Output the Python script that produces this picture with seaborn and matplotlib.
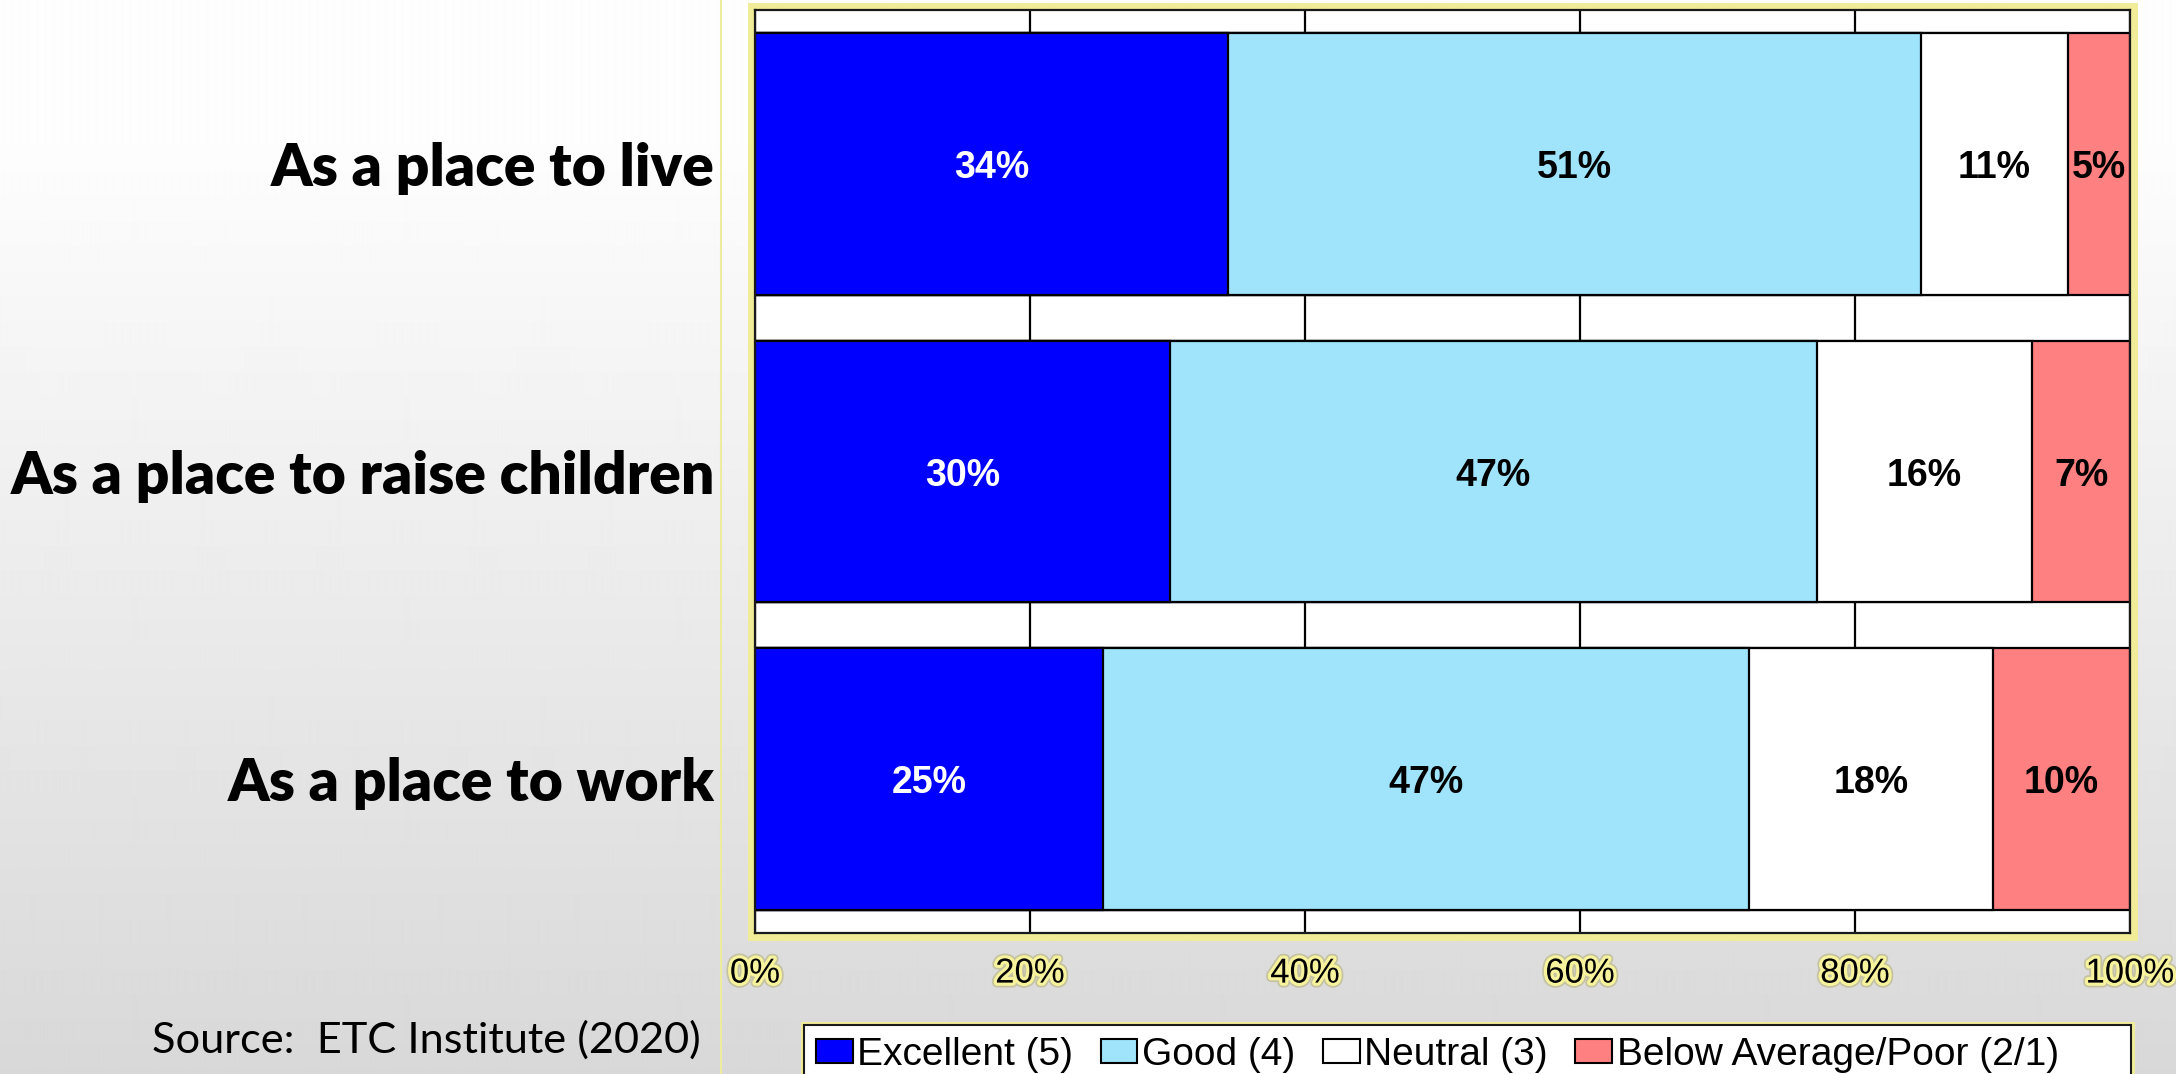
import numpy as np
import pandas as pd
import matplotlib
matplotlib.use("Agg")
import matplotlib.pyplot as plt
import matplotlib.patches as mpatches
import matplotlib.patheffects as pe
from matplotlib.lines import Line2D
import seaborn as sns

# ---------------- data ----------------
categories = ["As a place to live", "As a place to raise children", "As a place to work"]
excellent = [34.4, 30.2, 25.3]
good = [50.4, 47.0, 47.0]
neutral = [10.7, 15.7, 17.7]
below = [4.5, 7.1, 10.0]
excellent_lbl = [34, 30, 25]
good_lbl = [51, 47, 47]
neutral_lbl = [11, 16, 18]
below_lbl = [5, 7, 10]
series_names = ["Excellent (5)", "Good (4)", "Neutral (3)", "Below Average/Poor (2/1)"]
series_colors = ["#0000FF", "#A0E4FC", "#FFFFFF", "#FF8080"]
x_ticks = [0, 20, 40, 60, 80, 100]
x_tick_labels = ["0%", "20%", "40%", "60%", "80%", "100%"]
source_text = "Source:  ETC Institute (2020)"

# ---------------- figure ----------------
W, H = 2176, 1074
sns.set_style("white")
plt.rcParams['font.family'] = ['Liberation Sans', 'DejaVu Sans']

fig = plt.figure(figsize=(W / 100, H / 100), dpi=100)

# slide background gradient
bg = fig.add_axes([0, 0, 1, 1], zorder=-10)
yy = np.linspace(0, 1, H)
t = np.clip((yy - 0.12) / 0.88, 0, 1)
gray = 0.995 - t * (0.995 - 0xd8 / 255)
bg.imshow(np.repeat(gray[:, None], 8, axis=1), cmap="gray", vmin=0, vmax=1,
          aspect="auto", extent=[0, 1, 0, 1], interpolation="bilinear")
bg.set_axis_off()

# thin yellow separator
fig.add_artist(Line2D([721 / W, 721 / W], [0, 1], transform=fig.transFigure,
                      color="#ecec9c", lw=1.5, zorder=-1))

# main axes
ax_l, ax_r, ax_t, ax_b = 755, 2130, 10, 933
ax = fig.add_axes([ax_l / W, 1 - ax_b / H, (ax_r - ax_l) / W, (ax_b - ax_t) / H])
ax.set_facecolor("white")

# yellow outer frame around plot area
fig.add_artist(mpatches.Rectangle(((ax_l - 4) / W, 1 - (ax_b + 4) / H),
                                  (ax_r - ax_l + 8) / W, (ax_b - ax_t + 8) / H,
                                  transform=fig.transFigure, fc="none",
                                  ec="#f0ec98", lw=5, zorder=-1))

vals = np.array([excellent, good, neutral, below])
cum = np.cumsum(vals, axis=0)
df = pd.DataFrame({"category": categories})
for i, name in enumerate(series_names):
    df[f"cum{i}"] = cum[i]

for i in reversed(range(len(series_names))):
    sns.barplot(data=df, x=f"cum{i}", y="category", orient="h",
                color=series_colors[i], saturation=1, width=0.85,
                edgecolor="black", linewidth=1.6, ax=ax, zorder=2)

ax.set_xlim(0, 100)
ax.set_ylim(2.5, -0.5)
ax.set_xlabel("")
ax.set_ylabel("")
ax.set_axisbelow(True)
ax.xaxis.grid(True, color="black", lw=1.6)
ax.yaxis.grid(False)
for s in ax.spines.values():
    s.set_visible(True)
    s.set_color("#1a1a1a")
    s.set_linewidth(1.6)

ax.set_xticks(x_ticks, labels=x_tick_labels)
ax.tick_params(axis="x", length=0, pad=17, labelsize=25, labelcolor="black")
for lbl in ax.get_xticklabels():
    lbl.set_path_effects([pe.Stroke(linewidth=7, foreground="#c4c2a0"),
                          pe.Stroke(linewidth=4.5, foreground="#f7f39c"),
                          pe.Normal()])

ax.set_yticks(range(len(categories)), labels=categories)
ax.tick_params(axis="y", length=0, pad=29, labelcolor="black")
for lbl in ax.get_yticklabels():
    lbl.set_fontfamily(["Lato", "DejaVu Sans"])
    lbl.set_fontweight("heavy")
    lbl.set_fontsize(44)
    lbl.set_color("black")

# segment labels
label_sets = [excellent_lbl, good_lbl, neutral_lbl, below_lbl]
for i in range(len(series_names)):
    for j in range(len(categories)):
        xc = cum[i][j] - vals[i][j] / 2
        ax.text(xc, j, f"{label_sets[i][j]}%", ha="center", va="center_baseline",
                fontsize=27, fontweight="bold",
                color="white" if i == 0 else "black", zorder=5)

# legend box (extends past the bottom edge)
lg_l, lg_r, lg_t = 804, 2131, 1025
fig.add_artist(mpatches.Rectangle((lg_l / W, -0.05), (lg_r - lg_l) / W, (1 - lg_t / H) + 0.05,
                                  transform=fig.transFigure, fc="white", ec="#1a1a1a",
                                  lw=1.5, zorder=1,
                                  path_effects=[pe.Stroke(linewidth=5, foreground="#f0ec98"),
                                                pe.Normal()]))
handles = [mpatches.Patch(facecolor=c, edgecolor="black", lw=1.5, label=n)
           for c, n in zip(series_colors, series_names)]
fig.legend(handles=handles, loc="upper left", bbox_to_anchor=(lg_l / W, 1 - lg_t / H),
           ncol=4, frameon=False, fontsize=28, handlelength=0.95, handleheight=0.6,
           handletextpad=0.12, columnspacing=0.7, borderpad=0.3, borderaxespad=0,
           labelcolor="black")

src = fig.text(701 / W, 1 - 1040 / H, source_text, ha="right", va="center",
               fontsize=33, family=["Lato", "DejaVu Sans"], color="black")

# fit text widths to the reference
fig.canvas.draw()
r = fig.canvas.get_renderer()
ylbls = ax.get_yticklabels()
wmax = max(l.get_window_extent(r).width for l in ylbls)
fs = 44 * 703 / wmax
for l in ylbls:
    l.set_fontsize(fs)
ws = src.get_window_extent(r).width
src.set_fontsize(33 * 550 / ws)

fig.savefig("out.png", dpi=100)
